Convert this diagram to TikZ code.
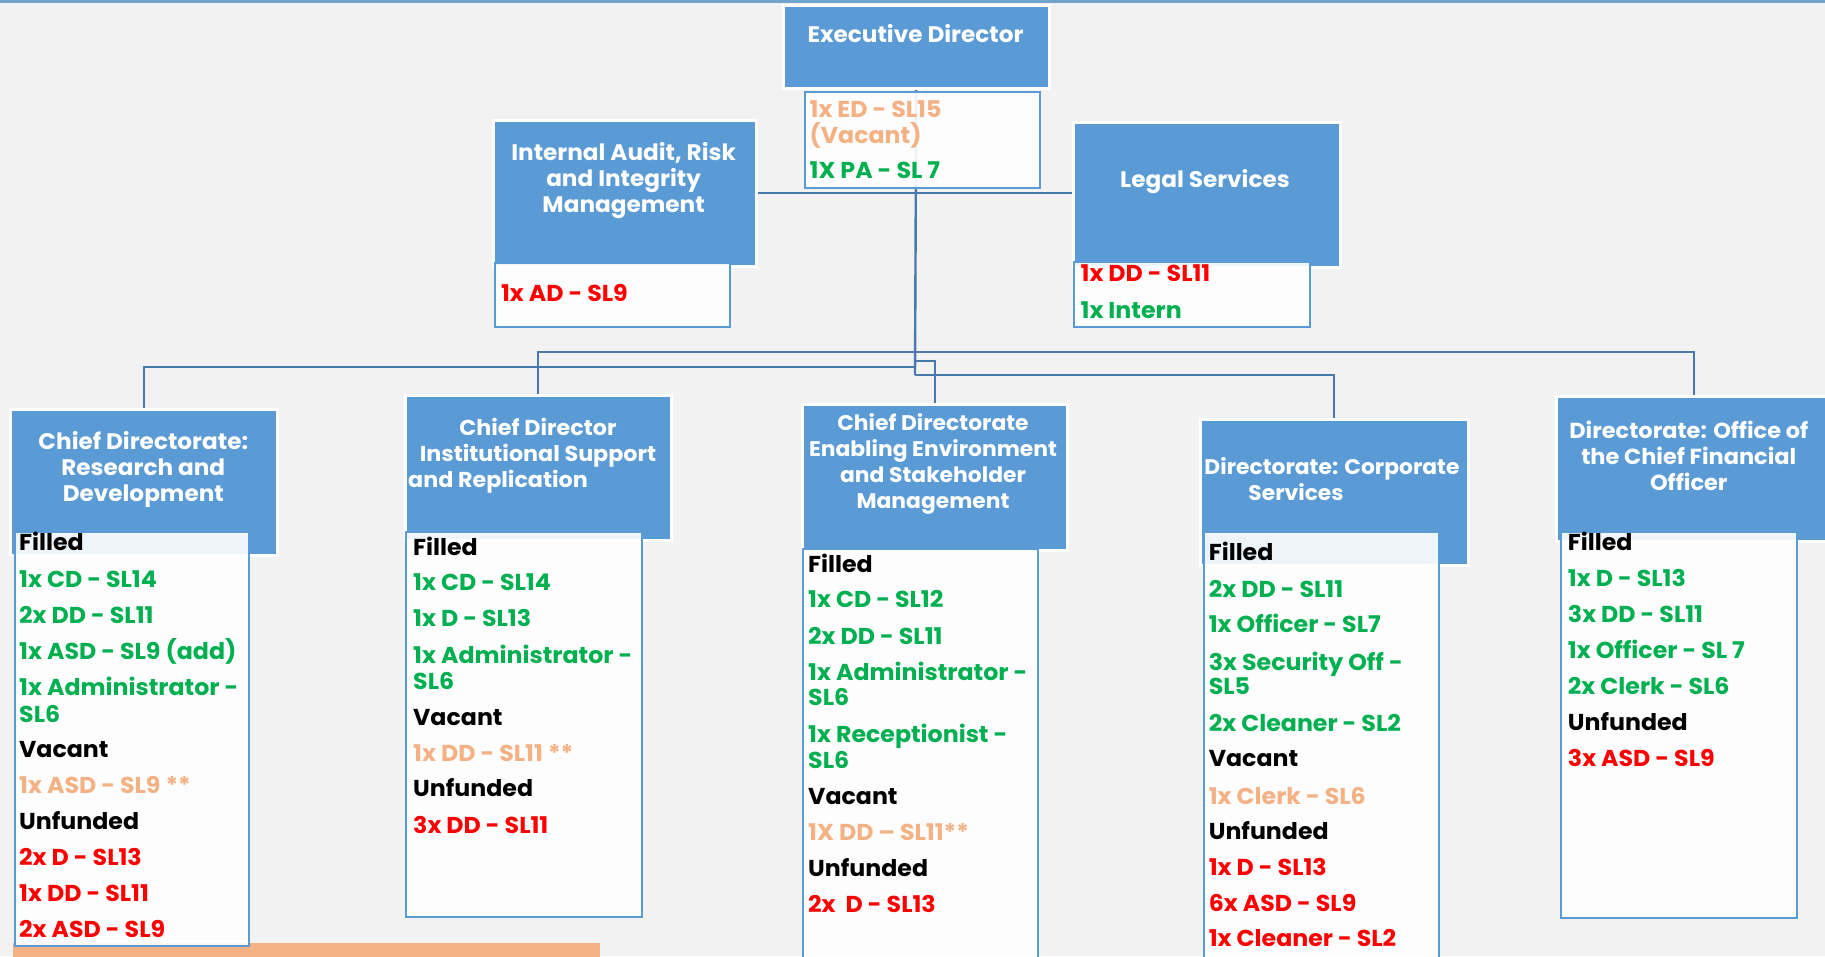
\documentclass[tikz,border=0pt]{standalone}
\usepackage{fontspec}
\setmainfont{Poppins}[FakeStretch=1.03]
\usetikzlibrary{backgrounds}

\definecolor{bg}{HTML}{F2F2F2}
\definecolor{hdblue}{HTML}{5B9BD5}
\definecolor{wire}{HTML}{4A7AAB}
\definecolor{topbar}{HTML}{71A4CC}
\definecolor{grn}{HTML}{00B050}
\definecolor{unf}{HTML}{FF0000}
\definecolor{vac}{HTML}{F4B183}
\definecolor{lbl}{HTML}{000000}
\definecolor{note}{HTML}{F4B183}

\tikzset{
  head/.style={draw=white, line width=2.5pt, fill=hdblue, inner sep=0pt, anchor=north west},
  staffbox/.style={draw=hdblue, line width=1.8pt, fill=white, fill opacity=0.9, inner sep=0pt, anchor=north west},
  htext/.style={text=white, font=\fontsize{22.5}{26}\selectfont\bfseries, align=center, inner sep=0pt},
  hsize/.style={font=\fontsize{#1}{26}\selectfont\bfseries},
  item/.style={anchor=west, inner sep=0pt, text height=17pt, text depth=0pt, font=\fontsize{23}{27}\selectfont\bfseries},
  wireline/.style={draw=wire, line width=2.4pt}
}

% box from top-left (#3,#4) to bottom-right (#5,#6)
\newcommand\orgbox[6]{%
  \node[#1, minimum width=#5pt-#3pt, minimum height=#6pt-#4pt] (#2) at (#3,#4) {};}

\begin{document}
\begin{tikzpicture}[x=1pt,y=-1pt]
\useasboundingbox (0,0) rectangle (1825,956);

% ---------- header boxes ----------
\orgbox{head}{edHead}{782}{4}{1048}{87}
\orgbox{head}{iaHead}{492}{119}{755}{265}
\orgbox{head}{legalHead}{1072}{121}{1339}{266}
\orgbox{head}{rdHead}{9}{408}{276}{554}
\orgbox{head}{isHead}{404}{394}{670}{539}
\orgbox{head}{eeHead}{801}{403}{1066}{549}
\orgbox{head}{corpHead}{1199}{418}{1467}{564}
\orgbox{head}{cfoHead}{1555}{395}{1830}{540}

% ---------- header titles ----------
\node[htext] (edTitle) at (915.5,33.3) {Executive Director};
\node[htext] (iaTitle) at (623.6,180.3) {Internal Audit, Risk\\and Integrity\\Management};
\node[htext] (legalTitle) at (1205,181.7) {Legal Services};
\node[htext] (rdTitle) at (143.3,469.3) {Chief Directorate:\\Research and\\Development};
\node[htext, hsize=21.6] (isTitle) at (538,455.5) {Chief Director\\Institutional Support\\and Replication\hspace*{80pt}};
\node[htext, hsize=21.2] (eeTitle) at (933,463.5) {Chief Directorate\\Enabling Environment\\and Stakeholder\\Management};
\node[htext, hsize=21.2] (corpTitle) at (1332,478.7) {Directorate: Corporate\\Services\hspace*{72pt}};
\node[htext, hsize=21.8] (cfoTitle) at (1688.8,455.6) {Directorate: Office of\\the Chief Financial\\Officer};

% ---------- staff boxes ----------
\orgbox{staffbox}{edStaff}{804}{91}{1039}{187}
\orgbox{staffbox}{iaStaff}{494}{262}{729}{326}
\orgbox{staffbox}{legalStaff}{1073}{261}{1309}{326}
\orgbox{staffbox}{rdStaff}{14}{531}{248}{945}
\orgbox{staffbox}{isStaff}{405}{531}{641}{916}
\orgbox{staffbox}{eeStaff}{802}{548}{1037}{975}
\orgbox{staffbox}{corpStaff}{1203}{531}{1438}{975}
\orgbox{staffbox}{cfoStaff}{1560}{531}{1796}{917}

% ---------- staff lists ----------
\foreach \col/\txt/\y [count=\i] in {vac/1x ED - SL15/109, vac/(Vacant)/135, grn/1X PA - SL 7/170}
  \node[item, text=\col] (ed\i) at (809.4,\y) {\txt};

\node[item, text=unf] (ia1) at (500.8,293.3) {1x AD - SL9};

\foreach \col/\txt/\y [count=\i] in {unf/1x DD - SL11/273.3, grn/1x Intern/310}
  \node[item, text=\col] (legal\i) at (1080.4,\y) {\txt};

\foreach \col/\txt/\y [count=\i] in {
    lbl/Filled/542, grn/1x CD - SL14/578.5, grn/2x DD - SL11/614.5,
    grn/1x ASD - SL9 (add)/651, grn/1x Administrator -/686.7, grn/SL6/714,
    lbl/Vacant/749, vac/1x ASD - SL9 **/785, lbl/Unfunded/821,
    unf/2x D - SL13/857, unf/1x DD - SL11/892.7, unf/2x ASD - SL9/928.5}
  \node[item, text=\col] (rd\i) at (19,\y) {\txt};

\foreach \col/\txt/\y [count=\i] in {
    lbl/Filled/547, grn/1x CD - SL14/582, grn/1x D - SL13/618,
    grn/1x Administrator -/655, grn/SL6/681, lbl/Vacant/716.5,
    vac/1x DD - SL11 **/753, lbl/Unfunded/788, unf/3x DD - SL11/825}
  \node[item, text=\col] (is\i) at (413,\y) {\txt};

\foreach \col/\txt/\y [count=\i] in {
    lbl/Filled/564, grn/1x CD - SL12/599.3, grn/2x DD - SL11/636,
    grn/1x Administrator -/672.3, grn/SL6/697.3, grn/1x Receptionist -/734.3,
    grn/SL6/760, lbl/Vacant/795.7, vac/1X DD -- SL11**/831.7,
    lbl/Unfunded/868.3, unf/2x\ \ D - SL13/904}
  \node[item, text=\col] (ee\i) at (808,\y) {\txt};

\foreach \col/\txt/\y [count=\i] in {
    lbl/Filled/552.3, grn/2x DD - SL11/589, grn/1x Officer - SL7/624,
    grn/3x Security Off -/661.7, grn/SL5/686, grn/2x Cleaner - SL2/723.3,
    lbl/Vacant/758.3, vac/1x Clerk - SL6/795.7, lbl/Unfunded/830.7,
    unf/1x D - SL13/867.3, unf/6x ASD - SL9/902.7, unf/1x Cleaner - SL2/938.3}
  \node[item, text=\col] (corp\i) at (1208.6,\y) {\txt};

\foreach \col/\txt/\y [count=\i] in {
    lbl/Filled/541.7, grn/1x D - SL13/578, grn/3x DD - SL11/613.6,
    grn/1x Officer - SL 7/650, grn/2x Clerk - SL6/686.3,
    lbl/Unfunded/722, unf/3x ASD - SL9/758.3}
  \node[item, text=\col] (cfo\i) at (1567.7,\y) {\txt};

% ---------- background, connectors ----------
\begin{pgfonlayer}{background}
  \fill[bg] (0,0) rectangle (1825,956);
  \fill[topbar] (0,0) rectangle (1825,2.7);
  \fill[note] (12.5,942.7) rectangle (600,960);
  \coordinate (busA) at (915,352);
  \coordinate (busC) at (915,360.7);
  \coordinate (busB) at (915,366.7);
  \coordinate (busD) at (915,375);
  \draw[wireline] (edHead.south) -- (busD);
  \draw[wireline] (iaHead.east) -- (iaHead.east -| legalHead.west);
  \draw[wireline] (isHead.north) |- (busA) -| (cfoHead.north);
  \draw[wireline] (rdHead.north) |- (busB);
  \draw[wireline] (busC) -| (eeHead.north);
  \draw[wireline] (busD) -| (corpHead.north);
\end{pgfonlayer}
\end{tikzpicture}
\end{document}
